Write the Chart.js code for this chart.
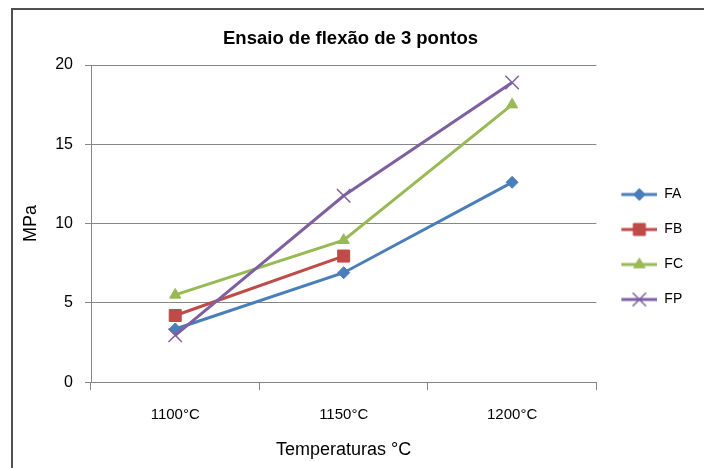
<!DOCTYPE html>
<html>
<head>
<meta charset="utf-8">
<script src="https://cdn.jsdelivr.net/npm/chart.js@4.4.0/dist/chart.umd.min.js"></script>
<style>
html, body { margin: 0; padding: 0; background: #fff; }
#wrap { position: relative; width: 704px; height: 468px; overflow: hidden; }
#frame { position: absolute; left: 11px; top: 8px; right: -10px; bottom: -10px;
  border-left: 2px solid #505050; border-top: 2px solid #505050; pointer-events: none; }
</style>
</head>
<body>
<div id="wrap">
  <canvas id="flexaoChart" width="704" height="468"></canvas>
  <div id="frame"></div>
</div>
<script>
// dados
const temperaturas = ["1100°C", "1150°C", "1200°C"];
const seriesNomes = ["FA", "FB", "FC", "FP"];
const fa = [3.35, 6.9, 12.6];
const fb = [4.2, 7.95, null];
const fc = [5.5, 8.95, 17.5];
const fp = [2.95, 11.75, 18.9];
const yMin = 0;
const yMax = 20;
const yPasso = 5;

const cores = ["#4a7ebb", "#be4b48", "#98b954", "#7d60a0"];
const estilos = ["rectRot", "rect", "triangle", "crossRot"];
const raios = [6, 8.5, 6.5, 9.5];

Chart.defaults.font.family = "'Liberation Sans', Arial, sans-serif";
Chart.defaults.color = "#000";

// icone da legenda: linha + marcador, como no Excel
function iconeLegenda(cor, estilo, raio) {
  const c = document.createElement("canvas");
  c.width = 40;
  c.height = 20;
  const ctx = c.getContext("2d");
  ctx.strokeStyle = cor;
  ctx.lineWidth = 3;
  ctx.beginPath();
  ctx.moveTo(4, 10);
  ctx.lineTo(40, 10);
  ctx.stroke();
  ctx.fillStyle = cor;
  ctx.lineWidth = estilo === "crossRot" ? 1.5 : 1;
  Chart.helpers.drawPoint(ctx, { pointStyle: estilo, radius: raio, rotation: 0, borderWidth: 1 }, 22, 10);
  return c;
}

const icones = cores.map((c, i) => iconeLegenda(c, estilos[i], raios[i]));
const valores = [fa, fb, fc, fp];

const datasets = seriesNomes.map((nome, i) => ({
  label: nome,
  data: valores[i],
  borderColor: cores[i],
  backgroundColor: cores[i],
  borderWidth: 3,
  pointStyle: estilos[i],
  pointRadius: raios[i],
  pointHoverRadius: raios[i],
  pointBorderWidth: estilos[i] === "crossRot" ? 1.5 : 1,
  tension: 0,
  spanGaps: false,
  order: seriesNomes.length - i
}));

let flexaoChart = new Chart(
  document.getElementById("flexaoChart"),
  {
    type: "line",
    data: {
      labels: temperaturas,
      datasets: datasets
    },
    options: {
      responsive: false,
      animation: false,
      events: [],
      layout: { padding: { left: 8, right: 11, top: 0, bottom: 9 } },
      plugins: {
        title: {
          display: true,
          text: "Ensaio de flexão de 3 pontos",
          font: { size: 18.5, weight: "bold" },
          color: "#000",
          padding: { top: 27.5, bottom: 15.3 }
        },
        legend: {
          position: "right",
          title: { display: true, text: "", font: { size: 10 }, padding: { top: 14, bottom: 9 } },
          labels: {
            usePointStyle: true,
            pointStyleWidth: 40,
            boxHeight: 14,
            padding: 21,
            font: { size: 14 },
            color: "#000",
            sort: (a, b) => a.datasetIndex - b.datasetIndex,
            generateLabels: function(chart) {
              const itens = Chart.defaults.plugins.legend.labels.generateLabels(chart);
              itens.forEach(it => { it.pointStyle = icones[it.datasetIndex]; });
              return itens;
            }
          }
        },
        tooltip: { enabled: false }
      },
      scales: {
        x: {
          offset: true,
          grid: {
            offset: true,
            drawOnChartArea: false,
            drawTicks: true,
            tickLength: 8,
            color: "#868686"
          },
          border: { color: "#868686", width: 1 },
          ticks: { font: { size: 15 }, padding: 16, color: "#000" },
          title: {
            display: true,
            text: "Temperaturas °C",
            font: { size: 18, lineHeight: 1.05 },
            color: "#000",
            padding: { top: 0, bottom: 0 }
          }
        },
        y: {
          min: yMin,
          max: yMax,
          ticks: { stepSize: yPasso, font: { size: 16 }, padding: 12, color: "#000" },
          grid: { color: "#868686", tickLength: 6 },
          border: { color: "#868686", width: 1 },
          title: {
            display: true,
            text: "MPa",
            font: { size: 18 },
            color: "#000",
            padding: { top: 12, bottom: 0 }
          },
          afterFit: function(scale) { scale.width = 83; }
        }
      }
    }
  }
);
</script>
</body>
</html>
